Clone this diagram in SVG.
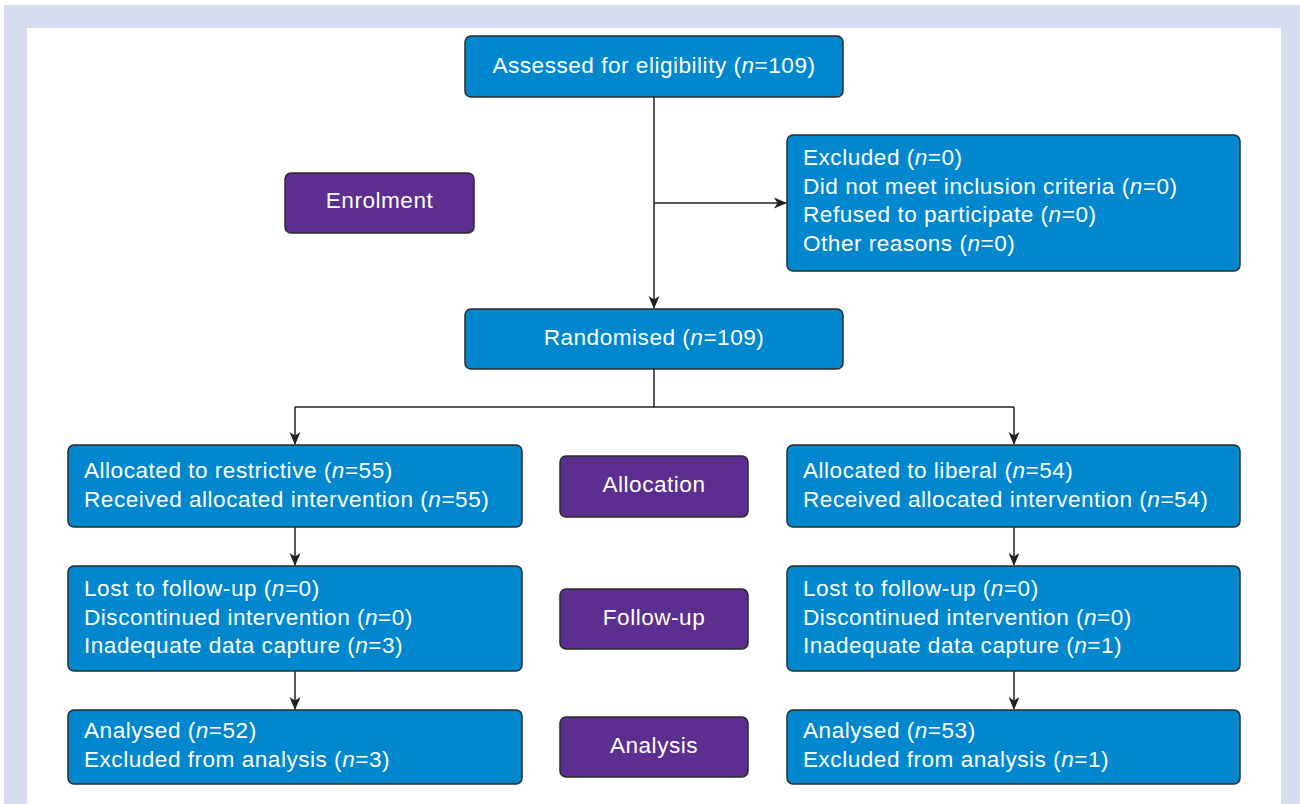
<svg xmlns="http://www.w3.org/2000/svg" width="1300" height="804" viewBox="0 0 1300 804">
<defs>
<style>
.b{fill:#0087CE;stroke:#2b2b2b;stroke-width:1.5}
.p{fill:#5B2E8F;stroke:#2b2b2b;stroke-width:1.5}
text{font-family:"Liberation Sans",Arial,sans-serif;font-size:22.6px;letter-spacing:0.5px;fill:#ffffff}
.c{text-anchor:middle}
.conn{fill:none;stroke:#222;stroke-width:1.5}
</style>
<marker id="ah" viewBox="0 0 13 12" refX="12" refY="6" markerWidth="13" markerHeight="12" markerUnits="userSpaceOnUse" orient="auto">
<path d="M0,0.5 L13,6 L0,11.5 L3.5,6 Z" fill="#222"/>
</marker>
</defs>
<rect x="0" y="0" width="1300" height="804" fill="#ffffff"/>
<path d="M4,5 H1300 V804 H1281 V28 H27 V804 H4 Z" fill="#D5DDEF"/>

<g id="connectors">
<path class="conn" d="M654,97 V308" marker-end="url(#ah)"/>
<path class="conn" d="M654,203 H786" marker-end="url(#ah)"/>
<path class="conn" d="M654,369 V407"/>
<path class="conn" d="M295,407 H1014"/>
<path class="conn" d="M295,407 V444" marker-end="url(#ah)"/>
<path class="conn" d="M1014,407 V444" marker-end="url(#ah)"/>
<path class="conn" d="M295,527 V565" marker-end="url(#ah)"/>
<path class="conn" d="M1014,527 V565" marker-end="url(#ah)"/>
<path class="conn" d="M295,671 V709" marker-end="url(#ah)"/>
<path class="conn" d="M1014,671 V709" marker-end="url(#ah)"/>
</g>

<g id="assessed">
<rect class="b" x="465" y="36" width="378" height="61" rx="6"/>
<text class="c" x="654" y="73">Assessed for eligibility (<tspan font-style="italic">n</tspan>=109)</text>
</g>

<g id="excluded">
<rect class="b" x="787" y="135" width="453" height="136" rx="6"/>
<text x="803" y="165">Excluded (<tspan font-style="italic">n</tspan>=0)</text>
<text x="803" y="193.5">Did not meet inclusion criteria (<tspan font-style="italic">n</tspan>=0)</text>
<text x="803" y="222">Refused to participate (<tspan font-style="italic">n</tspan>=0)</text>
<text x="803" y="250.5">Other reasons (<tspan font-style="italic">n</tspan>=0)</text>
</g>

<g id="enrolment">
<rect class="p" x="285" y="173" width="189" height="60" rx="6"/>
<text class="c" x="379.5" y="208">Enrolment</text>
</g>

<g id="randomised">
<rect class="b" x="465" y="309" width="378" height="60" rx="6"/>
<text class="c" x="654" y="345">Randomised (<tspan font-style="italic">n</tspan>=109)</text>
</g>

<g id="alloc-left">
<rect class="b" x="68" y="445" width="454" height="82" rx="6"/>
<text x="84" y="478">Allocated to restrictive (<tspan font-style="italic">n</tspan>=55)</text>
<text x="84" y="506.5">Received allocated intervention (<tspan font-style="italic">n</tspan>=55)</text>
</g>

<g id="allocation">
<rect class="p" x="560" y="456" width="188" height="61" rx="6"/>
<text class="c" x="654" y="492">Allocation</text>
</g>

<g id="alloc-right">
<rect class="b" x="787" y="445" width="453" height="82" rx="6"/>
<text x="803" y="478">Allocated to liberal (<tspan font-style="italic">n</tspan>=54)</text>
<text x="803" y="506.5">Received allocated intervention (<tspan font-style="italic">n</tspan>=54)</text>
</g>

<g id="follow-left">
<rect class="b" x="68" y="566" width="454" height="105" rx="6"/>
<text x="84" y="596">Lost to follow-up (<tspan font-style="italic">n</tspan>=0)</text>
<text x="84" y="624.5">Discontinued intervention (<tspan font-style="italic">n</tspan>=0)</text>
<text x="84" y="653">Inadequate data capture (<tspan font-style="italic">n</tspan>=3)</text>
</g>

<g id="followup">
<rect class="p" x="560" y="589" width="188" height="60" rx="6"/>
<text class="c" x="654" y="625">Follow-up</text>
</g>

<g id="follow-right">
<rect class="b" x="787" y="566" width="453" height="105" rx="6"/>
<text x="803" y="596">Lost to follow-up (<tspan font-style="italic">n</tspan>=0)</text>
<text x="803" y="624.5">Discontinued intervention (<tspan font-style="italic">n</tspan>=0)</text>
<text x="803" y="653">Inadequate data capture (<tspan font-style="italic">n</tspan>=1)</text>
</g>

<g id="analysis-left">
<rect class="b" x="68" y="710" width="454" height="74" rx="6"/>
<text x="84" y="738">Analysed (<tspan font-style="italic">n</tspan>=52)</text>
<text x="84" y="767">Excluded from analysis (<tspan font-style="italic">n</tspan>=3)</text>
</g>

<g id="analysis">
<rect class="p" x="560" y="717" width="188" height="60" rx="6"/>
<text class="c" x="654" y="753">Analysis</text>
</g>

<g id="analysis-right">
<rect class="b" x="787" y="710" width="453" height="74" rx="6"/>
<text x="803" y="738">Analysed (<tspan font-style="italic">n</tspan>=53)</text>
<text x="803" y="767">Excluded from analysis (<tspan font-style="italic">n</tspan>=1)</text>
</g>
</svg>
